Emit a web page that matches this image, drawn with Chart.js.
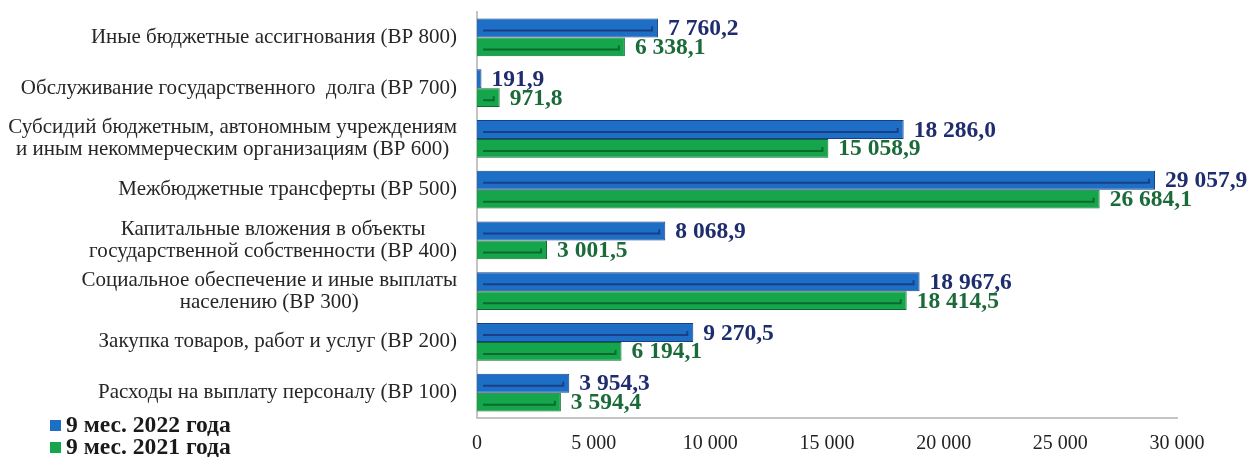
<!DOCTYPE html>
<html>
<head>
<meta charset="utf-8">
<script src="https://cdn.jsdelivr.net/npm/chart.js@4.4.0/dist/chart.umd.min.js"></script>
<style>
  html, body { margin: 0; padding: 0; background: #fff; }
  #wrap { position: relative; width: 1252px; height: 457px; }
  #legend { position: absolute; left: 50px; top: 413px; font-family: 'Liberation Serif', serif; font-weight: bold; font-size: 23.6px; color: #1a1a1a; line-height: 22px; }
  #legend span.sw { display: inline-block; width: 11px; height: 11px; margin-right: 5px; vertical-align: 1px; }
</style>
</head>
<body>
<div id="wrap">
  <canvas id="chart" width="1252" height="457"></canvas>
  <div id="legend"></div>
</div>
<script>
const categories = [
    'Иные бюджетные ассигнования (ВР 800)',
    'Обслуживание государственного  долга (ВР 700)',
    ['Субсидий бюджетным, автономным учреждениям', 'и иным некоммерческим организациям (ВР 600)'],
    'Межбюджетные трансферты (ВР 500)',
    ['Капитальные вложения в объекты', 'государственной собственности (ВР 400)'],
    ['Социальное обеспечение и иные выплаты', 'населению (ВР 300)'],
    'Закупка товаров, работ и услуг (ВР 200)',
    'Расходы на выплату персоналу (ВР 100)'
];
const seriesNames = ['9 мес. 2022 года', '9 мес. 2021 года'];
const values2022 = [7760.2, 191.9, 18286.0, 29057.9, 8068.9, 18967.6, 9270.5, 3954.3];
const values2021 = [6338.1, 971.8, 15058.9, 26684.1, 3001.5, 18414.5, 6194.1, 3594.4];
const tickValues = [0, 5000, 10000, 15000, 20000, 25000, 30000];

const fill = ['#1d6fc6', '#15a64b'];
const edge = ['#1b3f86', '#0d6a2f'];
const labelColor = ['#1f2d6e', '#1b6a39'];
const serif = "'Liberation Serif', serif";

function groupThousands(s) {
    return s.replace(/\B(?=(\d{3})+(?!\d))/g, ' ');
}
function fmtValue(v) {
    const parts = v.toFixed(1).split('.');
    return groupThousands(parts[0]) + ',' + parts[1];
}

// category labels: right-aligned block, multi-line centered inside the block
const catLabels = {
    id: 'catLabels',
    afterDraw(chart) {
        const ctx = chart.ctx;
        const y = chart.scales.y;
        const right = 457, lh = 22;
        ctx.save();
        ctx.font = '21px ' + serif;
        ctx.fillStyle = '#262626';
        ctx.textBaseline = 'middle';
        categories.forEach((c, i) => {
            const lines = Array.isArray(c) ? c : [c];
            const cy = y.getPixelForValue(i);
            const w = Math.max(...lines.map(l => ctx.measureText(l).width));
            ctx.textAlign = 'center';
            lines.forEach((l, k) => {
                ctx.fillText(l, right - w / 2, cy + (k - (lines.length - 1) / 2) * lh);
            });
        });
        ctx.restore();
    }
};

// inner groove on bars + value labels
const barDecor = {
    id: 'barDecor',
    afterDatasetsDraw(chart) {
        const ctx = chart.ctx;
        ctx.save();
        chart.data.datasets.forEach((ds, di) => {
            const meta = chart.getDatasetMeta(di);
            meta.data.forEach((bar, i) => {
                const h = bar.height;
                const top = bar.y - h / 2;
                const len = bar.x - bar.base;
                if (len > 16) {
                    const gy = top + h * 0.64;
                    ctx.strokeStyle = edge[di];
                    ctx.lineWidth = 2;
                    ctx.beginPath();
                    ctx.moveTo(bar.base + 6, gy);
                    ctx.lineTo(bar.x - 6, gy);
                    ctx.lineTo(bar.x - 6, gy - 4);
                    ctx.stroke();
                }
                ctx.font = 'bold 23.5px ' + serif;
                ctx.fillStyle = labelColor[di];
                ctx.textAlign = 'left';
                ctx.textBaseline = 'middle';
                ctx.fillText(fmtValue(ds.data[i]), bar.x + 10, bar.y + 1);
            });
        });
        ctx.restore();
    }
};

new Chart(document.getElementById('chart'), {
    type: 'bar',
    data: {
        labels: categories,
        datasets: [
            { label: seriesNames[0], data: values2022, backgroundColor: fill[0], borderColor: edge[0], borderWidth: 1 },
            { label: seriesNames[1], data: values2021, backgroundColor: fill[1], borderColor: edge[1], borderWidth: 1 }
        ]
    },
    options: {
        indexAxis: 'y',
        responsive: false,
        animation: false,
        layout: { padding: { left: 0, right: 75, top: 12, bottom: 0 } },
        datasets: { bar: { categoryPercentage: 0.74, barPercentage: 1 } },
        plugins: { legend: { display: false }, tooltip: { enabled: false } },
        scales: {
            x: {
                min: 0, max: 30000,
                afterBuildTicks: s => { s.ticks = tickValues.map(v => ({ value: v })); },
                afterFit: s => { s.height = 39; },
                grid: { display: false, drawTicks: false },
                border: { display: true, color: '#c4c4c4', width: 2 },
                ticks: {
                    padding: 14,
                    color: '#222',
                    font: { family: serif, size: 20 },
                    callback: v => groupThousands(String(v))
                }
            },
            y: {
                afterFit: s => { s.width = 477; },
                grid: { display: false, drawTicks: false },
                border: { display: true, color: '#c4c4c4', width: 2 },
                ticks: { display: false }
            }
        }
    },
    plugins: [catLabels, barDecor]
});

document.getElementById('legend').innerHTML = seriesNames
    .map((n, i) => `<div><span class="sw" style="background:${fill[i]}"></span>${n}</div>`)
    .join('');
</script>
</body>
</html>
